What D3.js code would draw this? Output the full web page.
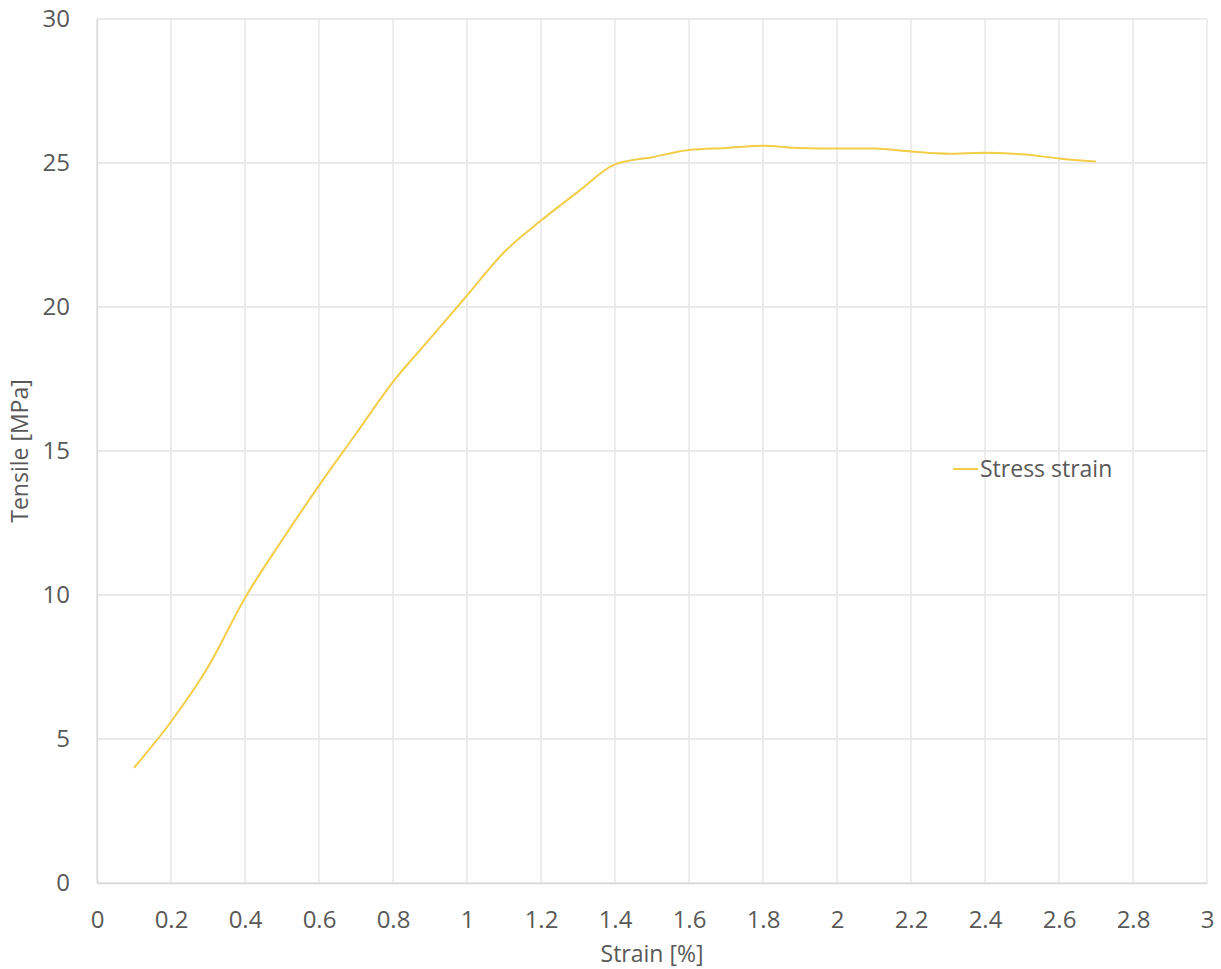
<!DOCTYPE html>
<html>
<head>
<meta charset="utf-8">
<script src="https://cdnjs.cloudflare.com/ajax/libs/d3/7.8.5/d3.min.js"></script>
<style>
body { margin: 0; background: #fff; }
svg text { font-family: "Open Sans", "Noto Sans", sans-serif; fill: #595959; }
</style>
</head>
<body>
<div id="chart"></div>
<script>
// data
var strain = [0.1, 0.2, 0.3, 0.4, 0.5, 0.6, 0.7, 0.8, 0.9, 1.0, 1.1, 1.2, 1.3, 1.4,
    1.5, 1.6, 1.7, 1.8, 1.9, 2.0, 2.1, 2.2, 2.3, 2.4, 2.5, 2.6, 2.7];
var tensile = [4.0, 5.6, 7.5, 9.9, 11.9, 13.8, 15.6, 17.4, 18.9, 20.4, 21.9, 23.0, 24.0, 24.95,
    25.2, 25.45, 25.52, 25.6, 25.52, 25.5, 25.5, 25.4, 25.32, 25.36, 25.3, 25.16, 25.05];
var xTicks = [0, 0.2, 0.4, 0.6, 0.8, 1, 1.2, 1.4, 1.6, 1.8, 2, 2.2, 2.4, 2.6, 2.8, 3];
var yTicks = [0, 5, 10, 15, 20, 25, 30];
var seriesName = "Stress strain";

var margin = { top: 19, right: 14, bottom: 86, left: 97 };
var width = 1221 - margin.left - margin.right;
var height = 969 - margin.top - margin.bottom;

var svg = d3.select("#chart")
    .append("svg")
    .attr("width", 1221)
    .attr("height", 969)
    .append("g")
    .attr("transform", "translate(" + margin.left + "," + margin.top + ")");

var x = d3.scaleLinear().domain([0, 3]).range([0, width]);
var y = d3.scaleLinear().domain([0, 30]).range([height, 0]);

// gridlines
svg.selectAll(".vgrid")
    .data(xTicks)
    .enter()
    .append("line")
    .attr("x1", function (d) { return x(d); })
    .attr("x2", function (d) { return x(d); })
    .attr("y1", 0)
    .attr("y2", height)
    .attr("stroke", "#e3e3e3")
    .attr("stroke-width", 1.3);

svg.selectAll(".hgrid")
    .data(yTicks)
    .enter()
    .append("line")
    .attr("x1", 0)
    .attr("x2", width)
    .attr("y1", function (d) { return y(d); })
    .attr("y2", function (d) { return y(d); })
    .attr("stroke", "#e3e3e3")
    .attr("stroke-width", 1.3);

// axes
var x_axis = d3.axisBottom(x).tickValues(xTicks).tickSize(0).tickPadding(28)
    .tickFormat(function (d) { return String(+d.toFixed(1)); });
var y_axis = d3.axisLeft(y).tickValues(yTicks).tickSize(0).tickPadding(27);

var gx = svg.append("g")
    .attr("transform", "translate(0," + height + ")")
    .call(x_axis);
gx.select(".domain").attr("stroke", "#d9d9d9").attr("stroke-width", 1.3);
gx.selectAll("text").style("font-size", "24px");

var gy = svg.append("g").call(y_axis);
gy.select(".domain").attr("stroke", "#d9d9d9").attr("stroke-width", 1.3);
gy.selectAll("text").style("font-size", "24px");

// the line
var line = d3.line()
    .x(function (d, i) { return x(strain[i]); })
    .y(function (d) { return y(d); })
    .curve(d3.curveMonotoneX);

svg.append("path")
    .datum(tensile)
    .attr("fill", "none")
    .attr("stroke", "#f2cd46")
    .attr("stroke-width", 2)
    .attr("d", line);

// axis titles
svg.append("text")
    .attr("x", width / 2)
    .attr("y", height + 79)
    .attr("text-anchor", "middle")
    .style("font-size", "23px")
    .text("Strain [%]");

svg.append("text")
    .attr("transform", "translate(-69," + (height / 2) + ") rotate(-90)")
    .attr("text-anchor", "middle")
    .style("font-size", "23px")
    .text("Tensile [MPa]");

// legend
var lg = svg.append("g")
    .attr("transform", "translate(" + (953 - margin.left) + "," + (469 - margin.top) + ")");
lg.append("line")
    .attr("x1", 0).attr("x2", 25)
    .attr("stroke", "#f2cd46")
    .attr("stroke-width", 2);
lg.append("text")
    .attr("x", 27)
    .attr("dy", "0.35em")
    .style("font-size", "23px")
    .text(seriesName);
</script>
</body>
</html>
